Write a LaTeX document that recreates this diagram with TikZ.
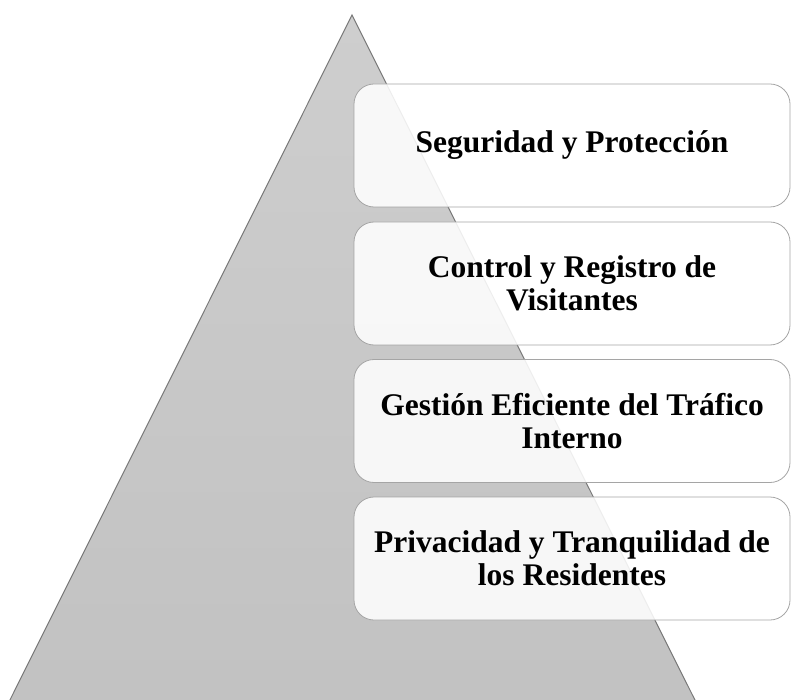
\documentclass[tikz,border=0pt]{standalone}
\usepackage{fontspec}
\setmainfont{Liberation Serif}
\definecolor{trifill}{RGB}{192,192,192}
\definecolor{trifilltop}{RGB}{206,206,206}
\definecolor{triline}{RGB}{120,120,120}
\definecolor{boxline}{RGB}{165,165,165}
\tikzset{
  tier/.style={draw=boxline, line width=0.8pt, rounded corners=20pt,
    fill=white, fill opacity=0.87, text opacity=1, draw opacity=1,
    minimum width=436pt, minimum height=123pt, align=center,
    inner sep=0pt, text=black,
    font=\fontsize{31.5}{33}\selectfont\bfseries},
  pyramid/.style={top color=trifilltop, bottom color=trifill, draw=triline, line width=1pt}
}
\begin{document}
\begin{tikzpicture}[x=1pt,y=-1pt]
\useasboundingbox (0,0) rectangle (792,700);
\begin{scope}
  \clip (0,0) rectangle (792,700);
  \path[pyramid] (352,15) -- (-40,800) -- (745,800) -- cycle;
\end{scope}
\node[tier] (t1) at (572,145.5) {Seguridad y Protección};
\node[tier] (t2) at (572,283.5) {Control y Registro de\\Visitantes};
\node[tier] (t3) at (572,421) {Gestión Eficiente del Tráfico\\Interno};
\node[tier] (t4) at (572,558.5) {Privacidad y Tranquilidad de\\los Residentes};
\end{tikzpicture}
\end{document}
